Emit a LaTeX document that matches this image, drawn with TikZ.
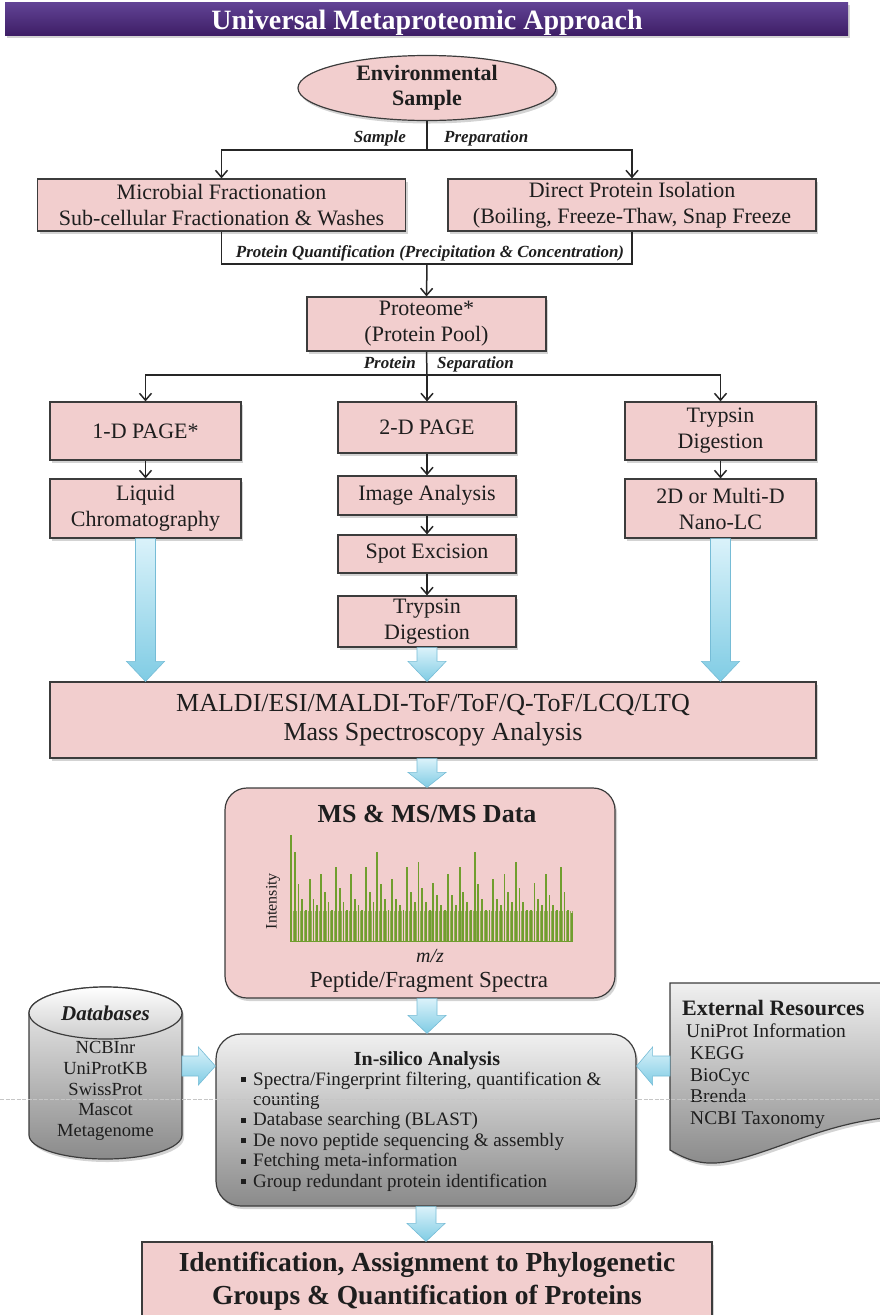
\documentclass[tikz,border=0pt]{standalone}
\usepackage{fontspec}
\setmainfont{Liberation Serif}
\usetikzlibrary{arrows.meta,calc,shadows,shapes.geometric}
\definecolor{pinkbox}{RGB}{242,206,206}
\definecolor{edgec}{RGB}{60,60,60}
\definecolor{txtc}{RGB}{30,30,30}
\definecolor{purpT}{RGB}{98,68,150}
\definecolor{purpB}{RGB}{62,30,102}
\definecolor{blueT}{RGB}{218,242,250}
\definecolor{blueB}{RGB}{128,204,228}
\definecolor{blueE}{RGB}{118,188,214}
\definecolor{grayT}{RGB}{240,240,240}
\definecolor{grayB}{RGB}{138,138,138}
\definecolor{barG}{RGB}{112,158,46}
\newcommand\BlkDown[3]{\shade[barrow] let \p1=#1, \p2=#2 in (\x1-10pt,\y1) -- (\x1+10pt,\y1) -- (\x1+10pt,\y2+#3) -- (\x1+19pt,\y2+#3) -- (\x1,\y2) -- (\x1-19pt,\y2+#3) -- (\x1-10pt,\y2+#3) -- cycle;}
\newcommand\BlkRight[2]{\shade[barrow] let \p1=#1, \p2=#2 in (\x1,\y1+10pt) -- (\x2-17pt,\y1+10pt) -- (\x2-17pt,\y1+19pt) -- (\x2,\y1) -- (\x2-17pt,\y1-19pt) -- (\x2-17pt,\y1-10pt) -- (\x1,\y1-10pt) -- cycle;}
\newcommand\BlkLeft[2]{\shade[barrow] let \p1=#1, \p2=#2 in (\x1,\y1+10pt) -- (\x2+16pt,\y1+10pt) -- (\x2+16pt,\y1+19pt) -- (\x2,\y1) -- (\x2+16pt,\y1-19pt) -- (\x2+16pt,\y1-10pt) -- (\x1,\y1-10pt) -- cycle;}
\newcommand\Sq{\makebox[12pt][l]{\rule[3pt]{5pt}{5pt}}}
\tikzset{
  shad/.style={drop shadow={shadow xshift=2pt,shadow yshift=-3pt,opacity=0.35}},
  box/.style={draw=edgec, line width=1.2pt, fill=pinkbox, align=center, inner sep=0pt, text=txtc, shad,
              font=\fontsize{22}{26}\selectfont},
  conn/.style={draw=black!85, line width=1.5pt},
  arr/.style={conn, -{Straight Barb[length=7pt,width=12pt,line width=1.5pt]}},
  lbl/.style={font=\fontsize{17}{20}\selectfont\bfseries\itshape, inner sep=0pt, text=txtc},
  barrow/.style={top color=blueT, bottom color=blueB, draw=blueE, line width=0.6pt},
  graysh/.style={top color=grayT, bottom color=grayB, draw=edgec, line width=1.2pt},
  txt/.style={inner sep=0pt, text=txtc},
  istxt/.style={txt, anchor=base west, font=\fontsize{19}{20.4}\selectfont},
}
\begin{document}
\begin{tikzpicture}[x=1pt,y=-1pt]
\useasboundingbox (0,0) rectangle (880,1315);
% title
\node[minimum width=843pt, minimum height=33pt, inner sep=0pt, top color=purpT, bottom color=purpB, shad] (banner) at (426.5,18.5) {};
\node[anchor=base, inner sep=0pt, text=white, font=\fontsize{28}{30}\selectfont\bfseries] (title) at (427,29) {Universal Metaproteomic Approach};
% top part
\node[box, ellipse, minimum width=258pt, minimum height=65pt, font=\fontsize{22}{25}\selectfont\bfseries] (env) at (427,88) {Environmental\\Sample};
\node[box, minimum width=368pt, minimum height=52pt] (mf) at (221.5,205) {Microbial Fractionation\\Sub-cellular Fractionation \& Washes};
\node[box, minimum width=368pt, minimum height=52pt] (dp) at (632,205) {Direct Protein Isolation\\(Boiling, Freeze-Thaw, Snap Freeze};
\coordinate (sp) at (427,150);
\draw[conn] (env.south) -- (sp);
\draw[arr] (sp) -| (mf.north);
\draw[arr] (sp) -| (dp.north);
\node[lbl, anchor=base east] (lsample) at (406,142) {Sample};
\node[lbl, anchor=base west] (lprep) at (444,142) {Preparation};
\node[box, minimum width=239pt, minimum height=54pt] (prot) at (426.5,324) {Proteome*\\(Protein Pool)};
\coordinate (pq) at (427,264);
\draw[conn] (mf.south) |- (pq);
\draw[conn] (dp.south) |- (pq);
\draw[arr] (pq) -- (prot.north);
\node[lbl, anchor=base] (lpq) at (430,257) {Protein Quantification (Precipitation \& Concentration)};
% separation
\node[box, minimum width=191pt, minimum height=58pt] (p1) at (145.5,431) {1-D PAGE*};
\node[box, minimum width=178pt, minimum height=51pt] (p2) at (427,427.5) {2-D PAGE};
\node[box, minimum width=191pt, minimum height=58pt] (t1) at (720.5,431) {Trypsin\\Digestion};
\coordinate (ps) at (427,375);
\draw[conn] (prot.south) -- (ps);
\draw[arr] (ps) -| (p1.north);
\draw[arr] (ps) -- (p2.north);
\draw[arr] (ps) -| (t1.north);
\node[lbl, anchor=base east] (lprot) at (416,368) {Protein};
\node[lbl, anchor=base west] (lsep) at (437,368) {Separation};
\node[box, minimum width=191pt, minimum height=59pt] (lc) at (145.5,508.5) {Liquid\\Chromatography};
\node[box, minimum width=191pt, minimum height=59pt] (nano) at (720.5,508.5) {2D or Multi-D\\Nano-LC};
\node[box, minimum width=178pt, minimum height=39pt] (ia) at (427,495.5) {Image Analysis};
\node[box, minimum width=178pt, minimum height=38pt] (se) at (427,554) {Spot Excision};
\node[box, minimum width=178pt, minimum height=51pt] (t2) at (427,621.5) {Trypsin\\Digestion};
\draw[arr] (p1.south) -- (lc.north);
\draw[arr] (t1.south) -- (nano.north);
\draw[arr] (p2.south) -- (ia.north);
\draw[arr] (ia.south) -- (se.north);
\draw[arr] (se.south) -- (t2.north);
% MALDI
\node[box, minimum width=766pt, minimum height=76pt, font=\fontsize{26}{29}\selectfont] (maldi) at (433,720) {MALDI/ESI/MALDI-ToF/ToF/Q-ToF/LCQ/LTQ\\Mass Spectroscopy Analysis};
\BlkDown{(lc.south)}{(lc.south |- maldi.north)}{20pt}
\BlkDown{(t2.south)}{(t2.south |- maldi.north)}{20pt}
\BlkDown{(nano.south)}{(nano.south |- maldi.north)}{20pt}
% MS box
\node[box, rounded corners=22pt, minimum width=390pt, minimum height=210pt] (ms) at (420,893) {};
\BlkDown{(maldi.south -| t2.south)}{(t2.south |- ms.north)}{15pt}
\node[txt, anchor=base, font=\fontsize{26}{30}\selectfont\bfseries] (mstitle) at (427,822) {MS \& MS/MS Data};
\foreach \i in {0,...,150}
  \draw[barG!70!pinkbox, line width=0.45pt] ({291+\i*1.8735},941) -- ++(0,-30);
\foreach \h [count=\i from 0] in {106,89,57,42,31,62,42,36,67,49,39,31,74,53,39,31,67,42,36,31,74,49,39,89,57,42,31,62,42,36,31,74,49,39,79,53,39,31,58,46,36,31,67,46,36,74,49,39,31,89,57,42,31,31,62,42,36,67,49,39,79,53,39,31,31,58,42,36,67,46,36,31,74,49,31,28}
  \draw[barG, line width=1.8pt] ({291+\i*3.747},941) -- ++(0,-\h);
\draw[barG, line width=1pt] (290,941) -- (573,941);
\node[txt, rotate=90, font=\fontsize{16}{18}\selectfont] (inten) at (273,901) {Intensity};
\node[txt, anchor=base, font=\fontsize{20}{22}\selectfont\itshape] (mz) at (430,962) {m/z};
\node[txt, anchor=base, font=\fontsize{23}{26}\selectfont] (pep) at (429,987) {Peptide/Fragment Spectra};
% in-silico
\node[graysh, rounded corners=25pt, minimum width=420pt, minimum height=172pt, shad] (isbox) at (426,1120) {};
\BlkDown{(ms.south -| t2.south)}{(t2.south |- isbox.north)}{18pt}
\node[txt, anchor=base, font=\fontsize{20}{22}\selectfont\bfseries] (istitle) at (427,1065) {In-silico Analysis};
\node[istxt] (is1) at (241,1085) {\Sq Spectra/Fingerprint filtering, quantification \&};
\node[istxt] (is2) at (241,1105.4) {\hspace*{12pt}counting};
\node[istxt] (is3) at (241,1125.8) {\Sq Database searching (BLAST)};
\node[istxt] (is4) at (241,1146.2) {\Sq De novo peptide sequencing \& assembly};
\node[istxt] (is5) at (241,1166.6) {\Sq Fetching meta-information};
\node[istxt] (is6) at (241,1187) {\Sq Group redundant protein identification};
% databases cylinder
\shade[graysh, shad] (29,1013) -- (29,1135) arc[start angle=180, end angle=0, x radius=76.5, y radius=24] -- (182,1013) arc[start angle=0, end angle=-180, x radius=76.5, y radius=26] -- cycle;
\shade[top color=white, bottom color=grayT!85!black, draw=edgec, line width=1.2pt] (105.5,1013) ellipse[x radius=76.5, y radius=26];
\node[txt, anchor=base, font=\fontsize{21}{24}\selectfont\bfseries\itshape] (dbt) at (105.5,1020) {Databases};
\foreach \t/\yy [count=\k] in {NCBInr/1053,UniProtKB/1074,SwissProt/1095,Mascot/1115,Metagenome/1136}
  \node[txt, anchor=base, font=\fontsize{18.5}{20}\selectfont] (db\k) at (105.5,\yy) {\t};
\coordinate (dbR) at (182,1066);
\BlkRight{(dbR)}{(dbR -| isbox.west)}
% external resources document
\shade[graysh, shad] (670,983) -- (884,983) -- (884,1118) .. controls (820,1125) and (770,1154) .. (725,1162) .. controls (705,1165) and (690,1162) .. (670,1150) -- cycle;
\node[txt, anchor=base west, font=\fontsize{22}{24}\selectfont\bfseries] (ext0) at (682,1015) {External Resources};
\foreach \t/\yy/\xx [count=\k] in {UniProt Information/1037/686,KEGG/1059/690,BioCyc/1081/690,Brenda/1102/690,NCBI Taxonomy/1124/690}
  \node[txt, anchor=base west, font=\fontsize{19.5}{21}\selectfont] (ext\k) at (\xx,\yy) {\t};
\coordinate (docL) at (670,1066);
\BlkLeft{(docL)}{(docL -| isbox.east)}
% final
\node[box, minimum width=570pt, minimum height=78pt, font=\fontsize{27.5}{33}\selectfont\bfseries] (fin) at (427,1281) {Identification, Assignment to Phylogenetic\\Groups \& Quantification of Proteins};
\BlkDown{(isbox.south)}{(fin.north)}{18pt}
% faint scan line
\draw[gray!45, line width=0.6pt, dash pattern=on 4pt off 1.5pt] (0,1099) -- (880,1099);
\end{tikzpicture}
\end{document}
